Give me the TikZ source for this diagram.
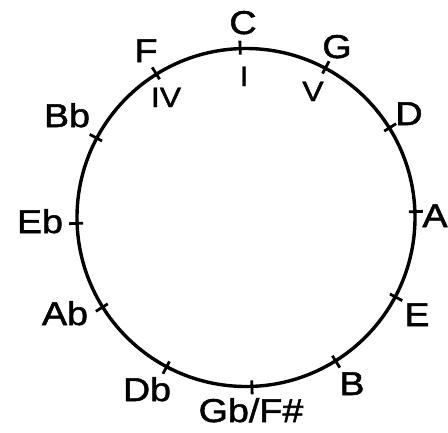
\documentclass[tikz,border=0pt]{standalone}
\usepackage{fontspec}
\setmainfont{Liberation Sans}[FakeStretch=1.14,UprightFeatures={FakeBold=1.6}]
\begin{document}
\begin{tikzpicture}[x=1pt,y=-1pt,
  ring/.style={line width=3.4pt},
  tickmark/.style={line width=2.8pt},
  key/.style={font=\fontsize{33}{33}\selectfont, inner sep=0pt, anchor=base},
  degree/.style={font=\fontsize{28}{28}\selectfont, inner sep=0pt, anchor=base}]
\useasboundingbox (0,0) rectangle (448,432);
\coordinate (O) at (246,217.5);
\draw[ring] (O) circle[radius=169pt];
\foreach \k in {0,...,11} {
  \pgfmathsetmacro\a{92-30*\k}
  \coordinate (ti\k) at ([shift={(\a:163pt)}]O);
  \coordinate (to\k) at ([shift={(\a:177pt)}]O);
  \draw[tickmark] (ti\k) -- (to\k);
}
\node[key] (C) at (243,34) {C};
\node[key] (G) at (337,58) {G};
\node[key] (D) at (409,125) {D};
\node[key] (A) at (435,227) {A};
\node[key] (E) at (417,326) {E};
\node[key] (B) at (352,395) {B};
\node[key] (Gb) at (251,422) {Gb/F\#};
\node[key] (Db) at (147,401) {Db};
\node[key] (Ab) at (65,325) {Ab};
\node[key] (Eb) at (40,233) {Eb};
\node[key] (Bb) at (67,127) {Bb};
\node[key] (F) at (146,62) {F};
\node[degree] (I) at (244,86) {I};
\node[degree] (IV) at (166,107) {IV};
\node[degree] (V) at (313,101) {V};
\end{tikzpicture}
\end{document}
